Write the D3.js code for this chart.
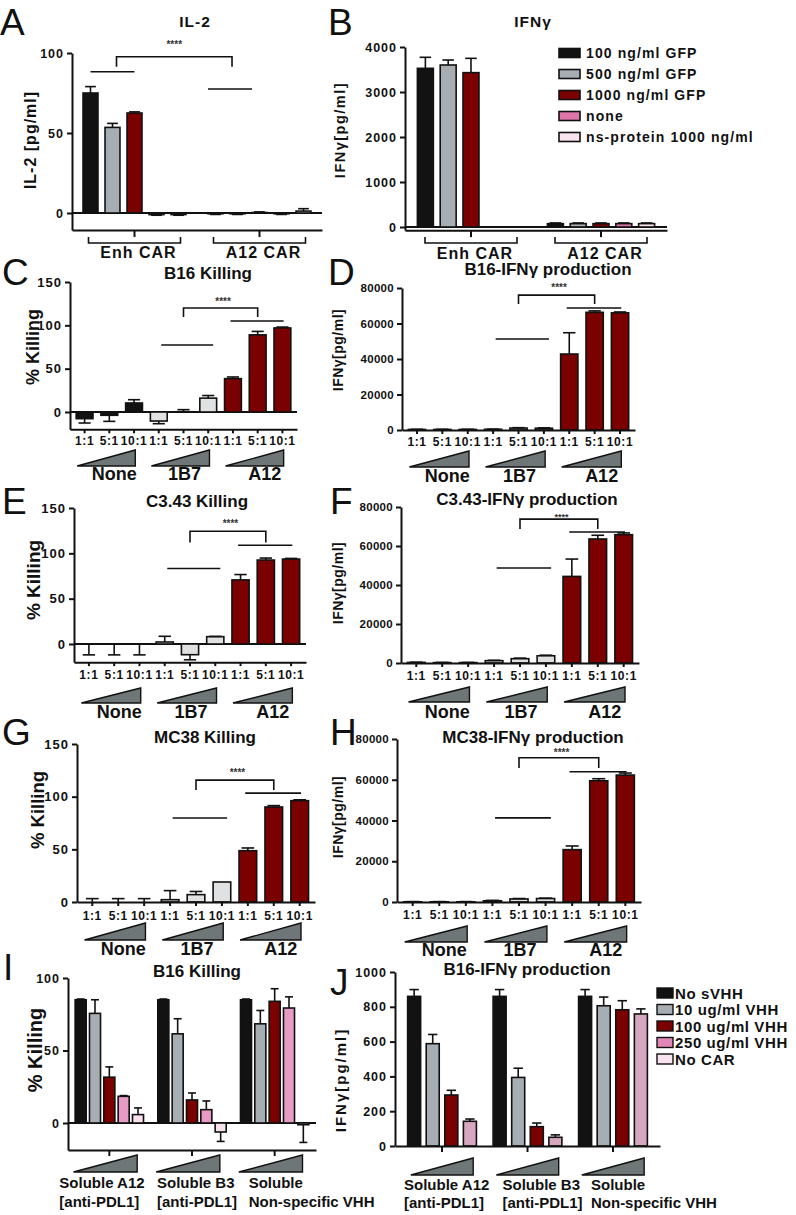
<!DOCTYPE html>
<html><head><meta charset="utf-8">
<script src="https://cdn.jsdelivr.net/npm/d3@7"></script>
<style>
body{margin:0;background:#fff;}
svg{display:block;}
</style></head><body>
<svg id="chart" width="796" height="1215"></svg>
<script>
// ================= DATA =================
const cytokineGroups = ["Enh CAR", "A12 CAR"];
const cytokineSeries = ["100 ng/ml GFP", "500 ng/ml GFP", "1000 ng/ml GFP", "none", "ns-protein 1000 ng/ml"];
const il2Values = [[75, 53.5, 62.5, -1, -1], [-0.5, -0.5, 0.3, -0.5, 1.2]];
const il2Errors = [[4, 2.5, 0.7, -0.4, -0.4], [-0.4, -0.4, 0.4, -0.4, 1.5]];
const il2Ticks = [0, 50, 100];
const ifngValues = [[3526, 3600, 3430, 0, 0], [75, 75, 75, 75, 75]];
const ifngErrors = [[245, 111, 318, 0, 0], [15, 15, 15, 15, 15]];
const ifngTicks = [0, 1000, 2000, 3000, 4000];

const ratioLabels = ["1:1", "5:1", "10:1"];
const effectorGroups = ["None", "1B7", "A12"];
const killTicks = [0, 50, 100, 150];
const ifnTicks = [0, 20000, 40000, 60000, 80000];

const b16KillValues = [-7.7, -3.8, 10.4, -10.4, 0.3, 16, 38.5, 89, 97];
const b16KillErrors = [-5, -7, 3.8, -3.1, 2.4, 3, 1.9, 4, 1];
const b16IfnValues = [300, 300, 300, 400, 1100, 1000, 42800, 66300, 66000];
const b16IfnErrors = [100, 100, 100, 100, 200, 200, 12000, 800, 500];
const c343KillValues = [0, 0, 0, 2.2, -11.8, 8.1, 70.7, 92.6, 93.7];
const c343KillErrors = [-12, -12, -12, 6.3, -5.6, 0.3, 5.9, 2.2, 0.7];
const c343IfnValues = [300, 200, 200, 1200, 2200, 3700, 44400, 63600, 65800];
const c343IfnErrors = [100, 100, 100, 200, 300, 300, 8900, 1900, 900];
const mc38KillValues = [0, 0, 0, 2.2, 7, 19, 48.7, 90.2, 96.2];
const mc38KillErrors = [3.2, 3.2, 3.2, 8.6, 3, 0, 2.6, 1.3, 0.8];
const mc38IfnValues = [100, 100, 100, 600, 1500, 1700, 25700, 59500, 62300];
const mc38IfnErrors = [100, 100, 100, 200, 200, 200, 1800, 1000, 1000];

const vhhGroups = [["Soluble A12", "[anti-PDL1]"], ["Soluble B3", "[anti-PDL1]"], ["Soluble", "Non-specific VHH"]];
const vhhSeries = ["No sVHH", "10 ug/ml VHH", "100 ug/ml VHH", "250 ug/ml VHH", "No CAR"];
const vhhKillValues = [[85, 75.6, 31.6, 18.4, 5.8], [85, 61.5, 15.9, 9.2, -6.2], [85, 68.4, 83.9, 79.3, -1.2]];
const vhhKillErrors = [[0.5, 9.4, 7.1, 0.5, 4.6], [0.5, 10.4, 4.8, 6, -6.5], [0.5, 9.2, 8.7, 7.7, -12.2]];
const vhhKillTicks = [0, 50, 100];
const vhhIfnValues = [[860, 588, 293, 142], [860, 394, 111, 50], [860, 806, 783, 759]];
const vhhIfnErrors = [[39, 53, 27, 13], [39, 53, 21, 14], [39, 50, 52, 29]];
const vhhIfnTicks = [0, 200, 400, 600, 800, 1000];

// ================= STYLE =================
const FONT = '"Liberation Sans", Arial, Helvetica, sans-serif';
const COL = {black: "#121212", gray: "#a7aeb3", red: "#7b0101", pink: "#de74a8", lpink: "#f9e3ee", lgray: "#dfe1e2", tri: "#6e7677"};
const cytoColors = [COL.black, COL.gray, COL.red, COL.pink, COL.lpink];
const ratioColors = [COL.black, COL.lgray, COL.red];
const vhhKillColors = [COL.black, COL.gray, COL.red, "#e79ac4", "#f8e1eb"];
const vhhIfnColors = [COL.black, COL.gray, COL.red, "#d7a7bf"];
const vhhLegendColors = [COL.black, COL.gray, COL.red, "#e187b6", "#f9e3ee"];

const svg = d3.select("#chart");

function txt(g, x, y, s, o = {}) {
  const t = g.append("text").attr("x", x).attr("y", y).text(s)
    .attr("font-size", o.size || 12).attr("font-weight", o.weight || "bold")
    .attr("text-anchor", o.anchor || "middle").attr("fill", o.fill || "#111")
    .attr("font-family", FONT);
  if (o.ls) t.attr("letter-spacing", o.ls);
  if (o.rotate) t.attr("transform", `rotate(-90,${x},${y})`).attr("dominant-baseline", "central");
  return t;
}
function makeY(zeroPx, topPx, topVal, minVal) {
  const k = (zeroPx - topPx) / topVal;
  return d3.scaleLinear().domain([minVal, topVal]).range([zeroPx - minVal * k, topPx]);
}
function drawYAxis(g, y, ticks, x, o) {
  const a = g.append("g").attr("transform", `translate(${x},0)`)
    .call(d3.axisLeft(y).tickValues(ticks).tickSize(5).tickSizeOuter(0).tickPadding(3).tickFormat(d3.format("d")));
  a.attr("font-family", FONT).attr("font-size", o.size || 12).attr("font-weight", "bold");
  a.select(".domain").attr("stroke", "#111").attr("stroke-width", 2);
  a.selectAll(".tick line").attr("stroke", "#111").attr("stroke-width", 2);
  a.selectAll(".tick text").attr("fill", "#111").attr("letter-spacing", o.ls || 0);
}
function drawBar(g, cx, bw, y, v, e, fill) {
  if (v !== 0) {
    g.append("rect").attr("x", cx - bw / 2).attr("width", bw)
      .attr("y", Math.min(y(v), y(0))).attr("height", Math.abs(y(v) - y(0)))
      .attr("fill", fill).attr("stroke", "#111").attr("stroke-width", 1.6);
  }
  if (e) {
    const y1 = y(v), y2 = y(v + e), cw = bw * 0.36;
    g.append("line").attr("x1", cx).attr("x2", cx).attr("y1", y1).attr("y2", y2).attr("stroke", "#111").attr("stroke-width", 1.6);
    g.append("line").attr("x1", cx - cw).attr("x2", cx + cw).attr("y1", y2).attr("y2", y2).attr("stroke", "#111").attr("stroke-width", 1.6);
  }
}
function hline(g, x1, x2, yy, w) {
  g.append("line").attr("x1", x1).attr("x2", x2).attr("y1", yy).attr("y2", yy).attr("stroke", "#111").attr("stroke-width", w || 1.6);
}
function bracketDown(g, x1, x2, yTop, yBot) {
  g.append("path").attr("d", `M${x1},${yBot}V${yTop}H${x2}V${yBot}`).attr("fill", "none").attr("stroke", "#111").attr("stroke-width", 1.6);
}
function common(g, p) {
  txt(g, p.lx, p.ly, p.letter, {size: 37, weight: "normal", anchor: "start"});
  txt(g, p.tx, p.ty, p.title, {size: p.tsize || 17, ls: p.tls || 0});
  txt(g, p.ylx, p.yly, p.ylab, {size: p.ylsize || 15, rotate: true, ls: p.ylls || 0});
}

// ============ Panels A / B (grouped cytokine) ============
function cytokinePanel(p) {
  const g = svg.append("g");
  common(g, p);
  const y = makeY(p.zeroPx, p.topPx, p.ticks[p.ticks.length - 1], p.yMin);
  const xo = d3.scaleBand().domain(cytokineGroups).range(p.xr).paddingInner(p.opi).paddingOuter(p.opo);
  const xi = d3.scaleBand().domain(cytokineSeries).range([0, xo.bandwidth()]).paddingInner(p.ipi).paddingOuter(p.ipi / 2);
  const bw = xi.bandwidth();
  const cx = (gr, s) => xo(gr) + xi(s) + bw / 2;
  hline(g, p.xr[0], p.xr[1], y(0), 2);
  cytokineGroups.forEach((gr, gi) => cytokineSeries.forEach((s, si) =>
    drawBar(g, cx(gr, s), bw, y, p.values[gi][si], p.errors[gi][si], cytoColors[si])));
  drawYAxis(g, y, p.ticks, p.xr[0], {size: 12.5, ls: 1});
  const xa = g.append("g").attr("transform", `translate(0,${y(p.yMin)})`)
    .call(d3.axisBottom(xo).tickSize(7).tickSizeOuter(0).tickFormat(() => ""));
  xa.select(".domain").attr("stroke", "#111").attr("stroke-width", 2);
  xa.selectAll(".tick line").attr("stroke", "#111").attr("stroke-width", 2);
  cytokineGroups.forEach(gr => {
    const c = xo(gr) + xo.bandwidth() / 2;
    g.append("path").attr("d", `M${c - 46},${p.brY - 6}V${p.brY}H${c + 46}V${p.brY - 6}`)
      .attr("fill", "none").attr("stroke", "#111").attr("stroke-width", 1.6);
    txt(g, c + 4, p.labY, gr, {size: 16, ls: 1});
  });
  if (p.sig) {
    const s = p.sig;
    const a1 = cx(cytokineGroups[0], cytokineSeries[0]), a2 = cx(cytokineGroups[0], cytokineSeries[2]);
    const b1 = xo(cytokineGroups[1]) + xi(cytokineSeries[0]), b2 = xo(cytokineGroups[1]) + xi(cytokineSeries[2]);
    hline(g, a1, a2, y(s.l1));
    hline(g, b1, b2, y(s.l2));
    const m1 = (a1 + a2) / 2 + 4, m2 = (b1 + b2) / 2 + 2;
    bracketDown(g, m1, m2, y(s.br), y(s.brDown));
    txt(g, (m1 + m2) / 2, y(s.stars) + 3, "****", {size: 10, fill: "#333"});
  }
  if (p.legend) {
    cytokineSeries.forEach((s, i) => {
      const yy = p.legend.y0 + i * p.legend.dy;
      g.append("rect").attr("x", p.legend.x).attr("y", yy - 4.5).attr("width", 21).attr("height", 9)
        .attr("fill", cytoColors[i]).attr("stroke", "#111").attr("stroke-width", 1.6);
      txt(g, p.legend.x + 27, yy + 5, s, {size: 14, anchor: "start", ls: 1.1});
    });
  }
}

// ============ Ratio panels C-H ============
function ratioPanel(p) {
  const g = svg.append("g");
  common(g, p);
  const y = makeY(p.zeroPx, p.topPx, p.ticks[p.ticks.length - 1], p.yMin);
  const cats = d3.range(9);
  const x = d3.scaleBand().domain(cats).range(p.xr).paddingInner(0.32).paddingOuter(0.25);
  const bw = x.bandwidth(), step = x.step();
  const cx = i => x(i) + bw / 2;
  const xf = f => cx(0) + f * step;
  if (p.yMin < 0) hline(g, p.xr[0], p.xr[1], y(0), 2);
  p.values.forEach((v, i) => drawBar(g, cx(i), bw, y, v, p.errors[i], ratioColors[Math.floor(i / 3)]));
  drawYAxis(g, y, p.ticks, p.xr[0], {size: p.tickSize || 12, ls: p.tickLs || 0.5});
  const xa = g.append("g").attr("transform", `translate(0,${y(p.yMin)})`)
    .call(d3.axisBottom(x).tickSize(4).tickSizeOuter(0).tickPadding(p.tickPad).tickFormat(i => ratioLabels[i % 3]));
  xa.attr("font-family", FONT).attr("font-size", 12).attr("font-weight", "bold");
  xa.select(".domain").attr("stroke", "#111").attr("stroke-width", 2);
  xa.selectAll(".tick line").attr("stroke", "#111").attr("stroke-width", 2);
  xa.selectAll(".tick text").attr("fill", "#111").attr("letter-spacing", 0.6);
  const labOff = [5, 1, 7];
  effectorGroups.forEach((name, gi) => {
    const xs = xf(3 * gi - 0.3), xe = xf(3 * gi + 2.05);
    g.append("path").attr("d", `M${xs},${p.triBot}L${xe},${p.triTop}L${xe},${p.triBot}Z`)
      .attr("fill", COL.tri).attr("stroke", "#111").attr("stroke-width", 1.4);
    txt(g, cx(3 * gi + 1) + labOff[gi], p.glY, name, {size: 18});
  });
  const s = p.sig;
  hline(g, xf(3.1), xf(5.2), y(s.l1));
  hline(g, xf(5.9), xf(8.05), y(s.l2));
  bracketDown(g, xf(4), xf(7), y(s.br), y(s.brDown));
  txt(g, xf(5.6), y(s.stars) + 3, "****", {size: p.starSize || 10, fill: "#333"});
}

// ============ VHH panels I / J ============
function vhhPanel(p) {
  const g = svg.append("g");
  common(g, p);
  const y = makeY(p.zeroPx, p.topPx, p.ticks[p.ticks.length - 1], p.yMin);
  const gIdx = d3.range(vhhGroups.length);
  const series = vhhSeries.slice(0, p.nSeries);
  const xo = d3.scaleBand().domain(gIdx).range(p.xr).paddingInner(p.opi).paddingOuter(p.opo);
  const xi = d3.scaleBand().domain(series).range([0, xo.bandwidth()]).paddingInner(p.ipi).paddingOuter(p.ipi / 2);
  const bw = xi.bandwidth();
  if (p.yMin < 0) hline(g, p.xr[0], p.xr[1], y(0), 2);
  gIdx.forEach(gi => series.forEach((s, si) =>
    drawBar(g, xo(gi) + xi(s) + bw / 2, bw, y, p.values[gi][si], p.errors[gi][si], p.colors[si])));
  drawYAxis(g, y, p.ticks, p.xr[0], {size: 12.5, ls: p.tickLs || 1});
  const xa = g.append("g").attr("transform", `translate(0,${y(p.yMin)})`)
    .call(d3.axisBottom(xo).tickSize(6).tickSizeOuter(0).tickFormat(() => ""));
  xa.select(".domain").attr("stroke", "#111").attr("stroke-width", 2);
  xa.selectAll(".tick line").attr("stroke", "#111").attr("stroke-width", 2);
  gIdx.forEach(gi => {
    const xs = xo(gi) + p.triIn[0], xe = xo(gi) + xo.bandwidth() - p.triIn[1];
    g.append("path").attr("d", `M${xs},${p.triBot}L${xe},${p.triTop}L${xe},${p.triBot}Z`)
      .attr("fill", COL.tri).attr("stroke", "#111").attr("stroke-width", 1.4);
    const c = xo(gi) + xo.bandwidth() / 2;
    txt(g, c + p.labDx[gi], p.labY[0], vhhGroups[gi][0], {size: 15, anchor: "start"});
    txt(g, c + p.labDx[gi], p.labY[1], vhhGroups[gi][1], {size: 15, anchor: "start"});
  });
  if (p.legend) {
    vhhSeries.forEach((s, i) => {
      const yy = p.legend.y0 + i * p.legend.dy;
      g.append("rect").attr("x", p.legend.x).attr("y", yy - 5).attr("width", 16).attr("height", 10)
        .attr("fill", vhhLegendColors[i]).attr("stroke", "#111").attr("stroke-width", 1.4);
      txt(g, p.legend.x + 18, yy + 5.5, s, {size: 15, anchor: "start", ls: 0.6});
    });
  }
}

// ================= LAYOUT =================
cytokinePanel({letter: "A", lx: 0, ly: 35, title: "IL-2", tx: 195, ty: 27, tsize: 15.5, tls: 1,
  ylab: "IL-2 [pg/ml]", ylx: 30, yly: 140, ylsize: 16, ylls: 1,
  xr: [72, 322], opi: 0.12, opo: 0.06, ipi: 0.32, zeroPx: 213, topPx: 53, ticks: il2Ticks, yMin: -10.6,
  values: il2Values, errors: il2Errors, brY: 243, labY: 258,
  sig: {l1: 88.3, l2: 77.5, br: 97.7, brDown: 91.4, stars: 105}});
cytokinePanel({letter: "B", lx: 328, ly: 35, title: "IFNγ", tx: 533, ty: 27, tsize: 15.5, tls: 1,
  ylab: "IFNγ[pg/ml]", ylx: 340, yly: 130, ylsize: 14.5, ylls: 1.5,
  xr: [405, 667], opi: 0.123, opo: 0.069, ipi: 0.3, zeroPx: 227, topPx: 47, ticks: ifngTicks, yMin: -70,
  values: ifngValues, errors: ifngErrors, brY: 243, labY: 259,
  legend: {x: 559, y0: 53, dy: 21}});

ratioPanel({letter: "C", lx: 2, ly: 285, title: "B16 Killing", tx: 208, ty: 279, ylab: "% Killing", ylx: 33, yly: 347, ylsize: 18,
  xr: [70, 297], zeroPx: 412, topPx: 282, ticks: killTicks, yMin: -20, values: b16KillValues, errors: b16KillErrors,
  tickSize: 13, tickLs: 1, tickPad: 3, triTop: 450, triBot: 466, glY: 480,
  sig: {l1: 77.3, l2: 105, br: 120, brDown: 109.6, stars: 127}});
ratioPanel({letter: "D", lx: 328, ly: 285, title: "B16-IFNγ production", tx: 548, ty: 275, ylab: "IFNγ[pg/ml]", ylx: 338, yly: 350, ylsize: 14, ylls: 0.5,
  xr: [402, 635], zeroPx: 430, topPx: 288, ticks: ifnTicks, yMin: 0, values: b16IfnValues, errors: b16IfnErrors,
  tickSize: 11.5, tickLs: 0.3, tickPad: 3, triTop: 451, triBot: 467, glY: 482,
  sig: {l1: 51270, l2: 68700, br: 76000, brDown: 71000, stars: 80000}});
ratioPanel({letter: "E", lx: 2, ly: 514, title: "C3.43 Killing", tx: 197, ty: 507, ylab: "% Killing", ylx: 33, yly: 580, ylsize: 19,
  xr: [74, 306], zeroPx: 644, topPx: 508, ticks: killTicks, yMin: -20, values: c343KillValues, errors: c343KillErrors,
  tickSize: 13, tickLs: 1, tickPad: 4.5, triTop: 688, triBot: 703, glY: 718,
  sig: {l1: 83.3, l2: 108.9, br: 124.4, brDown: 112, stars: 132}});
ratioPanel({letter: "F", lx: 330, ly: 514, title: "C3.43-IFNγ production", tx: 527, ty: 505, ylab: "IFNγ[pg/ml]", ylx: 338, yly: 583, ylsize: 14, ylls: 0.5,
  xr: [401, 639], zeroPx: 663, topPx: 507, ticks: ifnTicks, yMin: 0, values: c343IfnValues, errors: c343IfnErrors,
  tickSize: 11.5, tickLs: 0.3, tickPad: 4.5, triTop: 687, triBot: 702, glY: 718, starSize: 9,
  sig: {l1: 48700, l2: 67200, br: 73800, brDown: 68700, stars: 75000}});
ratioPanel({letter: "G", lx: 2, ly: 745, title: "MC38 Killing", tx: 205, ty: 743, ylab: "% Killing", ylx: 37, yly: 810, ylsize: 18.5,
  xr: [77, 315], zeroPx: 902, topPx: 744, ticks: killTicks, yMin: 0, values: mc38KillValues, errors: mc38KillErrors,
  tickSize: 13, tickLs: 1, tickPad: 5, triTop: 923, triBot: 940, glY: 955,
  sig: {l1: 79.7, l2: 103.4, br: 115.7, brDown: 106.3, stars: 122}});
ratioPanel({letter: "H", lx: 330, ly: 745, title: "MC38-IFNγ production", tx: 533, ty: 743, ylab: "IFNγ[pg/ml]", ylx: 338, yly: 817, ylsize: 14, ylls: 0.5,
  xr: [397, 641], zeroPx: 902, topPx: 739, ticks: ifnTicks, yMin: 0, values: mc38IfnValues, errors: mc38IfnErrors,
  tickSize: 11.5, tickLs: 0.3, tickPad: 4.5, triTop: 926, triBot: 942, glY: 956,
  sig: {l1: 41300, l2: 63900, br: 70800, brDown: 65800, stars: 73200}});

vhhPanel({letter: "I", lx: 3, ly: 980, title: "B16 Killing", tx: 197, ty: 977, ylab: "% Killing", ylx: 35, yly: 1050, ylsize: 20,
  xr: [68, 316], opi: 0.133, opo: 0.0665, ipi: 0.23, nSeries: 5, colors: vhhKillColors,
  zeroPx: 1123, topPx: 978, ticks: vhhKillTicks, yMin: -18.6, values: vhhKillValues, errors: vhhKillErrors,
  triTop: 1155, triBot: 1172, triIn: [0, 8], labDx: [-50, -35, -26], labY: [1188, 1207]});
vhhPanel({letter: "J", lx: 330, ly: 995, title: "B16-IFNγ production", tx: 527, ty: 975, ylab: "IFNγ[pg/ml]", ylx: 340, yly: 1080, ylsize: 15, ylls: 2,
  xr: [395, 660], opi: 0.13, opo: 0.115, ipi: 0.3, nSeries: 4, colors: vhhIfnColors,
  zeroPx: 1146, topPx: 972, ticks: vhhIfnTicks, yMin: 0, values: vhhIfnValues, errors: vhhIfnErrors,
  triTop: 1158, triBot: 1175, triIn: [6, 6], labDx: [-38, -25, -22], labY: [1190, 1208],
  legend: {x: 657, y0: 993, dy: 16.5}});
</script>
</body></html>
